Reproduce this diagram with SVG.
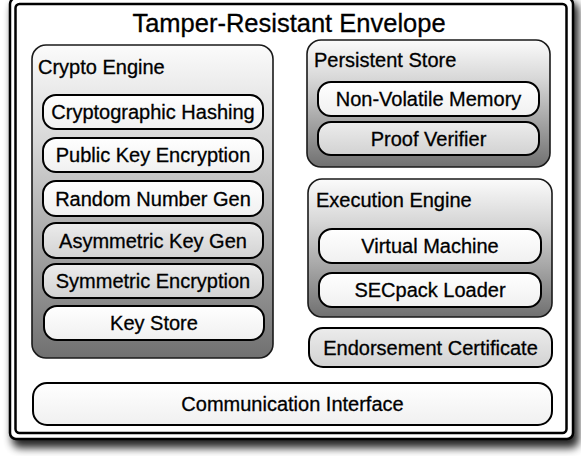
<svg xmlns="http://www.w3.org/2000/svg" width="581" height="456" viewBox="0 0 581 456">
<defs>
<filter id="blur" x="-10%" y="-10%" width="120%" height="120%"><feGaussianBlur stdDeviation="4"/></filter>
<linearGradient id="cont" x1="0" y1="0" x2="0" y2="1">
<stop offset="0" stop-color="#fbfbfb"/>
<stop offset="0.3" stop-color="#d8d8d8"/>
<stop offset="1" stop-color="#707070"/>
</linearGradient>
<linearGradient id="white" x1="0" y1="0" x2="0" y2="1">
<stop offset="0" stop-color="#ffffff"/>
<stop offset="1" stop-color="#f0f0f0"/>
</linearGradient>
<linearGradient id="gray" x1="0" y1="0" x2="0" y2="1">
<stop offset="0" stop-color="#ececec"/>
<stop offset="1" stop-color="#d2d2d2"/>
</linearGradient>
</defs>
<style>
text{font-family:"Liberation Sans",Arial,sans-serif;fill:#000;stroke:#000;stroke-width:0.3}
.title{font-size:25.5px;text-anchor:middle}
.lbl{font-size:20px}
.item{font-size:20px;text-anchor:middle}
.cont{fill:url(#cont);stroke:#1a1a1a;stroke-width:1.6}
.w{fill:url(#white);stroke:#000;stroke-width:2}
.g{fill:url(#gray);stroke:#000;stroke-width:2}
</style>
<rect x="0" y="0" width="581" height="456" fill="#fff"/>
<g id="envelope">
<rect x="12" y="2" width="567" height="446" rx="8" fill="#000" opacity="0.85" filter="url(#blur)"/>
<rect x="10" y="-2" width="563" height="441" rx="6" fill="#fff" stroke="#000" stroke-width="2.5"/>
<rect x="15.5" y="4" width="551" height="429" rx="4" fill="#fff" stroke="#000" stroke-width="2.5"/>
<text class="title" x="289" y="32">Tamper-Resistant Envelope</text>
</g>
<g id="crypto-engine">
<rect class="cont" x="32" y="45" width="241" height="313" rx="14"/>
<text class="lbl" x="38" y="74">Crypto Engine</text>
</g>
<g id="cryptographic-hashing">
<rect class="w" x="43" y="95" width="220" height="34" rx="13"/>
<text class="item" x="153" y="119">Cryptographic Hashing</text>
</g>
<g id="public-key-encryption">
<rect class="w" x="43" y="138" width="220" height="34" rx="13"/>
<text class="item" x="153" y="162">Public Key Encryption</text>
</g>
<g id="random-number-gen">
<rect class="w" x="43" y="181" width="220" height="35" rx="13"/>
<text class="item" x="153" y="206">Random Number Gen</text>
</g>
<g id="asymmetric-key-gen">
<rect class="g" x="43" y="223" width="220" height="35" rx="13"/>
<text class="item" x="153" y="248">Asymmetric Key Gen</text>
</g>
<g id="symmetric-encryption">
<rect class="g" x="43" y="264" width="220" height="34" rx="13"/>
<text class="item" x="153" y="288">Symmetric Encryption</text>
</g>
<g id="key-store">
<rect class="w" x="44" y="306" width="220" height="34" rx="13"/>
<text class="item" x="154" y="330">Key Store</text>
</g>
<g id="persistent-store">
<rect class="cont" x="307" y="40" width="243" height="127" rx="14"/>
<text class="lbl" x="314" y="67">Persistent Store</text>
</g>
<g id="non-volatile-memory">
<rect class="w" x="318" y="82" width="221" height="34" rx="13"/>
<text class="item" x="428.5" y="106">Non-Volatile Memory</text>
</g>
<g id="proof-verifier">
<rect class="g" x="318" y="122" width="221" height="33" rx="13"/>
<text class="item" x="428.5" y="146">Proof Verifier</text>
</g>
<g id="execution-engine">
<rect class="cont" x="308" y="179" width="244" height="138" rx="14"/>
<text class="lbl" x="316" y="207">Execution Engine</text>
</g>
<g id="virtual-machine">
<rect class="w" x="319" y="229" width="222" height="34" rx="13"/>
<text class="item" x="430" y="253">Virtual Machine</text>
</g>
<g id="secpack-loader">
<rect class="w" x="319" y="273" width="222" height="34" rx="13"/>
<text class="item" x="430" y="297">SECpack Loader</text>
</g>
<g id="endorsement-certificate">
<rect class="g" x="309" y="328" width="243" height="39" rx="14"/>
<text class="item" x="430.5" y="355">Endorsement Certificate</text>
</g>
<g id="communication-interface">
<rect class="w" x="33" y="383" width="519" height="42" rx="14"/>
<text class="item" x="292.5" y="411">Communication Interface</text>
</g>
<g id="connectors"></g>
</svg>
